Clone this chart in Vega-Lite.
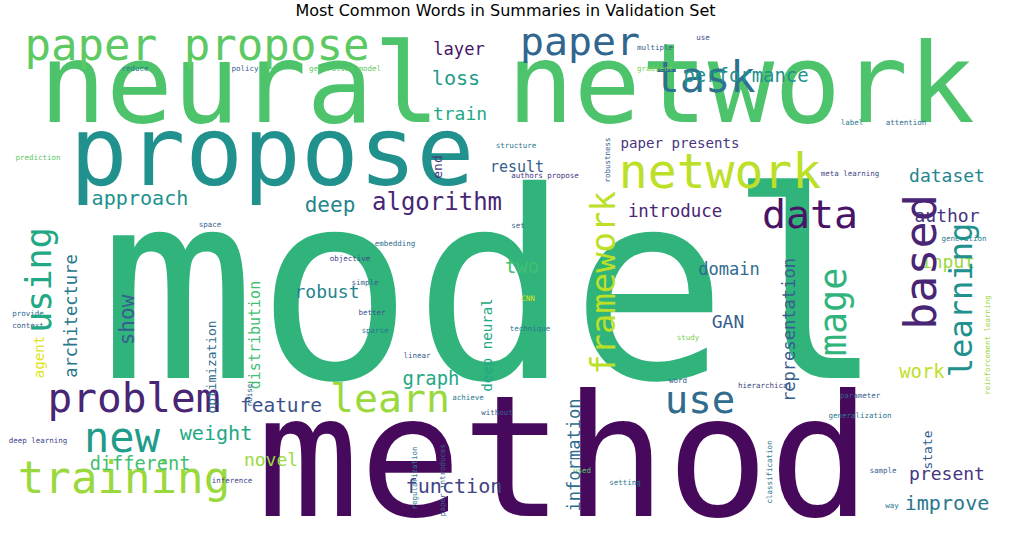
{
  "$schema": "https://vega.github.io/schema/vega-lite/v6.json",
  "width": 1011,
  "height": 508,
  "padding": {"top": 30, "left": 0, "right": 0, "bottom": 0},
  "autosize": "none",
  "background": "white",
  "title": {"text": "Most Common Words in Summaries in Validation Set", "font": "DejaVu Sans", "fontSize": 16, "fontWeight": "normal", "color": "black", "offset": 4},
  "config": {"view": {"stroke": null}},
  "data": {"values": [
    {"word": "model", "x": 492, "y": 378, "freq": 87, "tone": 0.65, "dir": "h"},
    {"word": "neural network", "x": 507, "y": 122, "freq": 37, "tone": 0.72, "dir": "h"},
    {"word": "method", "x": 564, "y": 516, "freq": 56.7, "tone": 0.02, "dir": "h"},
    {"word": "propose", "x": 272, "y": 185, "freq": 32, "tone": 0.5, "dir": "h"},
    {"word": "paper propose", "x": 197, "y": 60, "freq": 14.7, "tone": 0.75, "dir": "h"},
    {"word": "paper", "x": 580, "y": 55, "freq": 13.3, "tone": 0.33, "dir": "h"},
    {"word": "task", "x": 705, "y": 92, "freq": 14, "tone": 0.37, "dir": "h"},
    {"word": "network", "x": 720, "y": 188, "freq": 16, "tone": 0.9, "dir": "h"},
    {"word": "data", "x": 810, "y": 228, "freq": 13.3, "tone": 0.05, "dir": "h"},
    {"word": "problem", "x": 134, "y": 412, "freq": 13.7, "tone": 0.1, "dir": "h"},
    {"word": "learn", "x": 390, "y": 412, "freq": 13.3, "tone": 0.85, "dir": "h"},
    {"word": "use", "x": 700, "y": 413, "freq": 13, "tone": 0.35, "dir": "h"},
    {"word": "new", "x": 122, "y": 452, "freq": 14, "tone": 0.55, "dir": "h"},
    {"word": "training", "x": 124, "y": 493, "freq": 14.7, "tone": 0.85, "dir": "h"},
    {"word": "algorithm", "x": 437, "y": 210, "freq": 8, "tone": 0.1, "dir": "h"},
    {"word": "approach", "x": 140, "y": 205, "freq": 6.7, "tone": 0.5, "dir": "h"},
    {"word": "deep", "x": 330, "y": 212, "freq": 7, "tone": 0.45, "dir": "h"},
    {"word": "performance", "x": 746, "y": 82, "freq": 6.3, "tone": 0.5, "dir": "h"},
    {"word": "layer", "x": 459, "y": 55, "freq": 5.7, "tone": 0.05, "dir": "h"},
    {"word": "loss", "x": 456, "y": 85, "freq": 6.7, "tone": 0.55, "dir": "h"},
    {"word": "train", "x": 460, "y": 120, "freq": 6, "tone": 0.6, "dir": "h"},
    {"word": "dataset", "x": 947, "y": 182, "freq": 6, "tone": 0.45, "dir": "h"},
    {"word": "author", "x": 947, "y": 222, "freq": 6, "tone": 0.15, "dir": "h"},
    {"word": "input", "x": 948, "y": 268, "freq": 6, "tone": 0.85, "dir": "h"},
    {"word": "introduce", "x": 675, "y": 217, "freq": 5.8, "tone": 0.1, "dir": "h"},
    {"word": "paper presents", "x": 680, "y": 148, "freq": 4.7, "tone": 0.15, "dir": "h"},
    {"word": "result", "x": 517, "y": 172, "freq": 5, "tone": 0.3, "dir": "h"},
    {"word": "two", "x": 522, "y": 273, "freq": 6.3, "tone": 0.7, "dir": "h"},
    {"word": "domain", "x": 729, "y": 275, "freq": 5.7, "tone": 0.35, "dir": "h"},
    {"word": "GAN", "x": 728, "y": 328, "freq": 6, "tone": 0.3, "dir": "h"},
    {"word": "work", "x": 922, "y": 378, "freq": 6.3, "tone": 0.9, "dir": "h"},
    {"word": "graph", "x": 431, "y": 385, "freq": 6.3, "tone": 0.6, "dir": "h"},
    {"word": "feature", "x": 281, "y": 412, "freq": 6.5, "tone": 0.25, "dir": "h"},
    {"word": "weight", "x": 216, "y": 440, "freq": 6.7, "tone": 0.6, "dir": "h"},
    {"word": "different", "x": 140, "y": 470, "freq": 6.2, "tone": 0.7, "dir": "h"},
    {"word": "novel", "x": 271, "y": 466, "freq": 6, "tone": 0.85, "dir": "h"},
    {"word": "present", "x": 947, "y": 480, "freq": 6, "tone": 0.15, "dir": "h"},
    {"word": "improve", "x": 947, "y": 510, "freq": 6.7, "tone": 0.4, "dir": "h"},
    {"word": "function", "x": 454, "y": 493, "freq": 6.7, "tone": 0.2, "dir": "h"},
    {"word": "robust", "x": 327, "y": 298, "freq": 6, "tone": 0.45, "dir": "h"},
    {"word": "multiple", "x": 655, "y": 50, "freq": 2.5, "tone": 0.3, "dir": "h"},
    {"word": "use", "x": 703, "y": 40, "freq": 2.5, "tone": 0.2, "dir": "h"},
    {"word": "reduce", "x": 135, "y": 71, "freq": 2.5, "tone": 0.4, "dir": "h"},
    {"word": "policy", "x": 245, "y": 71, "freq": 2.5, "tone": 0.3, "dir": "h"},
    {"word": "generation model", "x": 345, "y": 71, "freq": 2.5, "tone": 0.75, "dir": "h"},
    {"word": "gradient", "x": 655, "y": 71, "freq": 2.5, "tone": 0.8, "dir": "h"},
    {"word": "label", "x": 852, "y": 125, "freq": 2.5, "tone": 0.4, "dir": "h"},
    {"word": "attention", "x": 906, "y": 125, "freq": 2.5, "tone": 0.35, "dir": "h"},
    {"word": "structure", "x": 516, "y": 148, "freq": 2.5, "tone": 0.4, "dir": "h"},
    {"word": "meta learning", "x": 850, "y": 176, "freq": 2.5, "tone": 0.2, "dir": "h"},
    {"word": "prediction", "x": 38, "y": 160, "freq": 2.5, "tone": 0.75, "dir": "h"},
    {"word": "authors propose", "x": 545, "y": 178, "freq": 2.5, "tone": 0.15, "dir": "h"},
    {"word": "space", "x": 210, "y": 227, "freq": 2.5, "tone": 0.3, "dir": "h"},
    {"word": "embedding", "x": 395, "y": 246, "freq": 2.5, "tone": 0.35, "dir": "h"},
    {"word": "generation", "x": 964, "y": 241, "freq": 2.5, "tone": 0.4, "dir": "h"},
    {"word": "set", "x": 518, "y": 228, "freq": 2.5, "tone": 0.3, "dir": "h"},
    {"word": "objective", "x": 350, "y": 261, "freq": 2.5, "tone": 0.2, "dir": "h"},
    {"word": "simple", "x": 365, "y": 285, "freq": 2.5, "tone": 0.3, "dir": "h"},
    {"word": "better", "x": 372, "y": 315, "freq": 2.5, "tone": 0.25, "dir": "h"},
    {"word": "sparse", "x": 375, "y": 333, "freq": 2.5, "tone": 0.4, "dir": "h"},
    {"word": "provide", "x": 28, "y": 316, "freq": 2.5, "tone": 0.35, "dir": "h"},
    {"word": "context", "x": 28, "y": 328, "freq": 2.5, "tone": 0.3, "dir": "h"},
    {"word": "CNN", "x": 528, "y": 301, "freq": 2.5, "tone": 0.95, "dir": "h"},
    {"word": "technique", "x": 530, "y": 331, "freq": 2.5, "tone": 0.4, "dir": "h"},
    {"word": "study", "x": 688, "y": 340, "freq": 2.5, "tone": 0.8, "dir": "h"},
    {"word": "linear", "x": 417, "y": 358, "freq": 2.5, "tone": 0.3, "dir": "h"},
    {"word": "achieve", "x": 468, "y": 400, "freq": 2.5, "tone": 0.4, "dir": "h"},
    {"word": "without", "x": 497, "y": 415, "freq": 2.5, "tone": 0.3, "dir": "h"},
    {"word": "word", "x": 678, "y": 383, "freq": 2.5, "tone": 0.3, "dir": "h"},
    {"word": "hierarchical", "x": 765, "y": 388, "freq": 2.5, "tone": 0.2, "dir": "h"},
    {"word": "parameter", "x": 860, "y": 398, "freq": 2.5, "tone": 0.3, "dir": "h"},
    {"word": "generalization", "x": 860, "y": 418, "freq": 2.5, "tone": 0.4, "dir": "h"},
    {"word": "deep learning", "x": 38, "y": 443, "freq": 2.5, "tone": 0.2, "dir": "h"},
    {"word": "inference", "x": 232, "y": 483, "freq": 2.5, "tone": 0.2, "dir": "h"},
    {"word": "used", "x": 582, "y": 473, "freq": 2.5, "tone": 0.75, "dir": "h"},
    {"word": "setting", "x": 625, "y": 485, "freq": 2.5, "tone": 0.4, "dir": "h"},
    {"word": "sample", "x": 883, "y": 473, "freq": 2.5, "tone": 0.3, "dir": "h"},
    {"word": "way", "x": 892, "y": 508, "freq": 2.5, "tone": 0.4, "dir": "h"},
    {"word": "using", "x": 40, "y": 280, "freq": 11.7, "tone": 0.6, "dir": "v"},
    {"word": "framework", "x": 605, "y": 283, "freq": 11.3, "tone": 0.9, "dir": "v"},
    {"word": "based", "x": 922, "y": 262, "freq": 15, "tone": 0.1, "dir": "v"},
    {"word": "image", "x": 835, "y": 323, "freq": 12.3, "tone": 0.65, "dir": "v"},
    {"word": "learning", "x": 962, "y": 300, "freq": 10.7, "tone": 0.5, "dir": "v"},
    {"word": "end", "x": 438, "y": 167, "freq": 4.3, "tone": 0.15, "dir": "v"},
    {"word": "representation", "x": 790, "y": 330, "freq": 5.7, "tone": 0.3, "dir": "v"},
    {"word": "architecture", "x": 72, "y": 316, "freq": 5.7, "tone": 0.4, "dir": "v"},
    {"word": "distribution", "x": 255, "y": 335, "freq": 5, "tone": 0.7, "dir": "v"},
    {"word": "optimization", "x": 212, "y": 367, "freq": 4.3, "tone": 0.35, "dir": "v"},
    {"word": "agent", "x": 40, "y": 357, "freq": 4.7, "tone": 0.95, "dir": "v"},
    {"word": "deep neural", "x": 488, "y": 345, "freq": 4.7, "tone": 0.6, "dir": "v"},
    {"word": "information", "x": 575, "y": 455, "freq": 5.7, "tone": 0.35, "dir": "v"},
    {"word": "state", "x": 928, "y": 450, "freq": 4.3, "tone": 0.3, "dir": "v"},
    {"word": "show", "x": 128, "y": 320, "freq": 7, "tone": 0.3, "dir": "v"},
    {"word": "robustness", "x": 608, "y": 160, "freq": 2.5, "tone": 0.3, "dir": "v"},
    {"word": "reinforcement learning", "x": 988, "y": 345, "freq": 2.5, "tone": 0.85, "dir": "v"},
    {"word": "noise", "x": 250, "y": 395, "freq": 2.5, "tone": 0.3, "dir": "v"},
    {"word": "regularization", "x": 415, "y": 478, "freq": 2.5, "tone": 0.4, "dir": "v"},
    {"word": "paper introduces", "x": 443, "y": 480, "freq": 2.5, "tone": 0.3, "dir": "v"},
    {"word": "classification", "x": 770, "y": 472, "freq": 2.5, "tone": 0.4, "dir": "v"}
  ]},
  "encoding": {
    "x": {"field": "x", "type": "quantitative", "scale": {"domain": [0, 1011]}, "axis": null},
    "y": {"field": "y", "type": "quantitative", "scale": {"domain": [30, 538], "reverse": true}, "axis": null},
    "size": {"field": "freq", "type": "quantitative", "scale": {"type": "linear", "domain": [0, 100], "range": [0, 300]}, "legend": null},
    "color": {"field": "tone", "type": "quantitative", "scale": {"scheme": "viridis", "domain": [0, 1]}, "legend": null},
    "text": {"field": "word"}
  },
  "layer": [
    {
      "transform": [{"filter": "datum.dir == 'h'"}],
      "mark": {"type": "text", "font": "DejaVu Sans Mono", "align": "center", "baseline": "alphabetic"}
    },
    {
      "transform": [{"filter": "datum.dir == 'v'"}],
      "mark": {"type": "text", "font": "DejaVu Sans Mono", "align": "center", "baseline": "middle", "angle": 270}
    }
  ]
}
